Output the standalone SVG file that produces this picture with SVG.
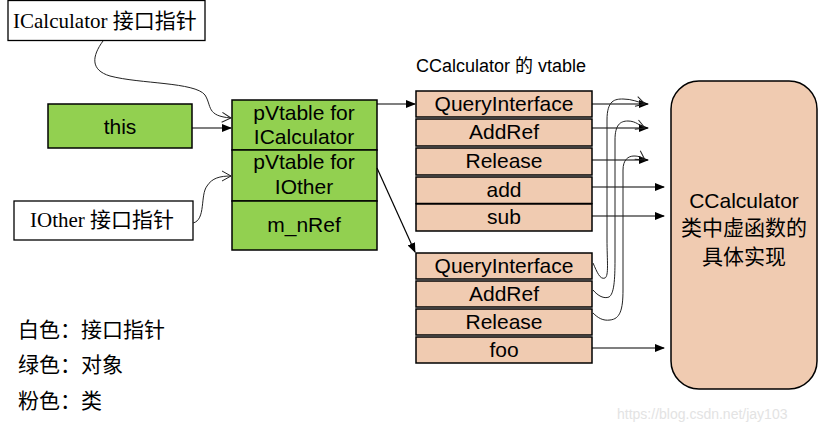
<svg xmlns="http://www.w3.org/2000/svg" width="819" height="433" viewBox="0 0 819 433">
<style>
.sans{font-family:"Liberation Sans",Arial,"Noto Sans CJK SC",sans-serif;fill:#000}
.serif{font-family:"Liberation Serif","Times New Roman","Noto Sans CJK SC",serif;fill:#000}
.cjk{font-family:"Noto Sans CJK SC",sans-serif;fill:#000}
.white{fill:#fff;stroke:#000;stroke-width:1.3}
.green{fill:#92d050;stroke:#000;stroke-width:1.5}
.pink{fill:#f0cbb1;stroke:#000;stroke-width:1.5}
.conn{fill:none;stroke:#000;stroke-width:1.2}
.curve{fill:none;stroke:#222;stroke-width:1}
.t20{font-size:21px;text-anchor:middle}
</style>
<defs>
<marker id="fa" markerWidth="10" markerHeight="8" refX="9" refY="4" orient="auto" markerUnits="userSpaceOnUse">
<path d="M0,0 L10,4 L0,8 Z" fill="#000"/>
</marker>
<marker id="oa" markerWidth="12" markerHeight="12" refX="11" refY="6" orient="auto" markerUnits="userSpaceOnUse">
<path d="M2,1 L11,6 L2,11" fill="none" stroke="#222" stroke-width="1"/>
</marker>
</defs>

<g id="icalc-ptr">
<rect class="white" x="8" y="0.5" width="197" height="40"/>
<text class="serif" x="13" y="28" font-size="21">ICalculator 接口指针</text>
</g>
<g id="iother-ptr">
<rect class="white" x="14" y="201" width="179" height="39"/>
<text class="serif" x="30" y="227" font-size="21">IOther 接口指针</text>
</g>
<g id="this">
<rect class="green" x="48" y="104" width="144" height="44"/>
<text class="sans t20" x="120" y="134" font-size="22">this</text>
</g>
<g id="obj">
<rect class="green" x="232" y="100" width="145" height="50"/>
<text class="sans t20" x="304" y="120">pVtable for</text>
<text class="sans t20" x="304" y="144">ICalculator</text>
<rect class="green" x="232" y="150" width="145" height="51"/>
<text class="sans t20" x="304" y="169">pVtable for</text>
<text class="sans t20" x="304" y="194">IOther</text>
<rect class="green" x="232" y="201" width="145" height="49"/>
<text class="sans t20" x="304" y="232">m_nRef</text>
</g>

<g id="vtable1">
<text class="sans" x="416" y="72" font-size="18">CCalculator 的 vtable</text>
<rect class="pink" x="416" y="91" width="176" height="26"/>
<text class="sans t20" x="504" y="111">QueryInterface</text>
<rect class="pink" x="416" y="119" width="176" height="27"/>
<text class="sans t20" x="504" y="139">AddRef</text>
<rect class="pink" x="416" y="148" width="176" height="27"/>
<text class="sans t20" x="504" y="168">Release</text>
<rect class="pink" x="416" y="177" width="176" height="26.5"/>
<text class="sans t20" x="504" y="197">add</text>
<rect class="pink" x="416" y="204" width="176" height="27"/>
<text class="sans t20" x="504" y="224">sub</text>
</g>

<g id="vtable2">
<rect class="pink" x="416" y="253" width="176" height="26"/>
<text class="sans t20" x="504" y="273">QueryInterface</text>
<rect class="pink" x="416" y="281" width="176" height="26"/>
<text class="sans t20" x="504" y="301">AddRef</text>
<rect class="pink" x="416" y="309" width="176" height="26"/>
<text class="sans t20" x="504" y="329">Release</text>
<rect class="pink" x="416" y="337" width="176" height="26"/>
<text class="sans t20" x="504" y="357">foo</text>
</g>

<g id="ccalc">
<rect class="pink" x="671" y="81" width="146" height="308" rx="28" ry="28"/>
<text class="sans t20" x="744" y="208">CCalculator</text>
<text class="cjk t20" x="744" y="235" font-size="20">类中虚函数的</text>
<text class="cjk t20" x="744" y="264" font-size="20">具体实现</text>
</g>

<g id="legend">
<text class="cjk" x="18" y="337" font-size="21">白色：接口指针</text>
<text class="cjk" x="18" y="372" font-size="21">绿色：对象</text>
<text class="cjk" x="18" y="408" font-size="21">粉色：类</text>
</g>

<g id="connectors">
<path class="curve" d="M103,41 C92,56 90,70 110,76 C140,84 195,82 205,95 C212,106 206,116 231,118" marker-end="url(#oa)"/>
<path class="curve" d="M193,223 C206,220 200,195 207,186 C212,178 220,176 231,176" marker-end="url(#oa)"/>
<line class="conn" x1="192" y1="128" x2="231" y2="128" marker-end="url(#fa)"/>
<line class="conn" x1="377" y1="104" x2="415" y2="104" marker-end="url(#fa)"/>
<line class="conn" x1="377" y1="168" x2="415" y2="252" marker-end="url(#fa)"/>
<line class="conn" x1="592" y1="104" x2="648" y2="104" marker-end="url(#fa)"/>
<line class="conn" x1="592" y1="128" x2="648" y2="128" marker-end="url(#fa)"/>
<line class="conn" x1="592" y1="160" x2="648" y2="160" marker-end="url(#fa)"/>
<line class="conn" x1="592" y1="187" x2="664" y2="187" marker-end="url(#fa)"/>
<line class="conn" x1="592" y1="216" x2="664" y2="216" marker-end="url(#fa)"/>
<line class="conn" x1="592" y1="348" x2="664" y2="348" marker-end="url(#fa)"/>
<path class="curve" d="M593,263 C597,272 600,280 605,278 C609,276 607,260 607,240 L607,120 C607,100 615,99 623,99 C632,99 638,102 645,104" marker-end="url(#oa)"/>
<path class="curve" d="M593,290 C598,296 604,299 609,297 C614,294 615,280 615,260 L615,140 C615,125 620,121 628,121 C636,121 640,126 645,128" marker-end="url(#oa)"/>
<path class="curve" d="M593,313 C598,318 603,321 610,320 C620,319 623,310 623,290 L623,170 C623,160 628,156 634,156 C640,156 642,158 645,160" marker-end="url(#oa)"/>
</g>

<text x="617" y="419" font-family="Liberation Sans,Arial,sans-serif" font-size="14" fill="#e3e3e3">https://blog.csdn.net/jay103</text>
</svg>
